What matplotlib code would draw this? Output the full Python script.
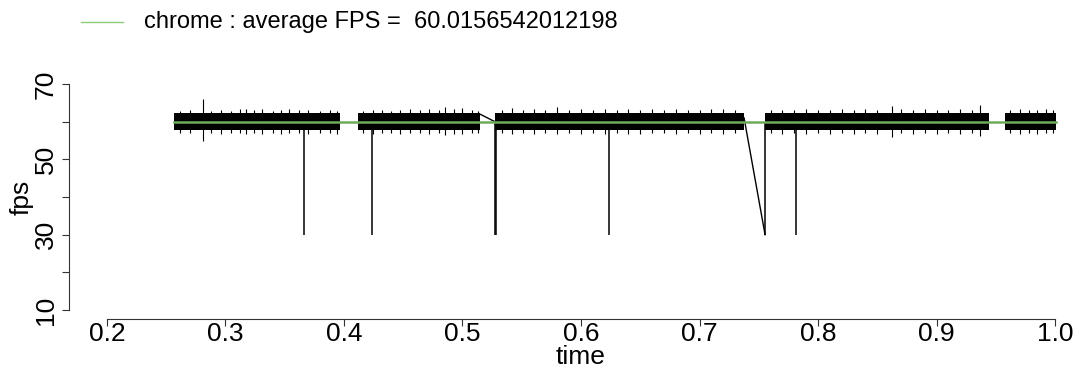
import matplotlib
matplotlib.use("Agg")
import matplotlib.pyplot as plt
from matplotlib.lines import Line2D

plt.rcParams['font.family'] = ['Liberation Sans', 'DejaVu Sans']

# recording segments (time) and the solid part of the fps band
seg_start = [0.2565, 0.4118, 0.5274, 0.7553, 0.9578]
seg_end = [0.3966, 0.5148, 0.7376, 0.9443, 1.0005]
band_low = [57.7, 57.7, 57.7, 57.7, 57.7]
band_high = [62.3, 62.3, 62.3, 62.3, 62.3]

# visible jitter outliers (time, high, low)
peak_t = [0.2620, 0.2700, 0.2810, 0.2880, 0.2960, 0.3050, 0.3120, 0.3170, 0.3240,
          0.3310, 0.3400, 0.3470, 0.3540, 0.3620, 0.3700, 0.3800, 0.3880, 0.3940,
          0.4160, 0.4245, 0.4320, 0.4400, 0.4473, 0.4557, 0.4640, 0.4720, 0.4800,
          0.4852, 0.4930, 0.4996, 0.5080, 0.5130,
          0.5330, 0.5420, 0.5510, 0.5600, 0.5700, 0.5800, 0.5900, 0.6000, 0.6100,
          0.6200, 0.6300, 0.6400, 0.6500, 0.6600, 0.6700, 0.6800, 0.6900, 0.7000,
          0.7100, 0.7200, 0.7300,
          0.7600, 0.7700, 0.7800, 0.7900, 0.8000, 0.8100, 0.8200, 0.8300, 0.8400,
          0.8500, 0.8620, 0.8700, 0.8800, 0.8900, 0.9000, 0.9100, 0.9200, 0.9300,
          0.9370,
          0.9620, 0.9700, 0.9780, 0.9850, 0.9920, 0.9980]
peak_hi = [62.9, 63.1, 66.0, 62.8, 63.2, 62.9, 63.4, 63.5, 63.0,
           63.3, 62.9, 63.2, 63.4, 63.0, 63.2, 62.9, 63.1, 62.8,
           62.9, 63.0, 63.1, 62.9, 63.2, 63.5, 63.2, 63.4, 63.0,
           63.8, 63.3, 63.6, 63.1, 62.9,
           63.2, 63.7, 63.1, 63.4, 63.0, 63.8, 63.2, 63.3, 63.0,
           63.5, 63.1, 63.3, 63.0, 63.4, 63.1, 63.4, 63.2, 63.0,
           63.3, 63.5, 63.1,
           63.0, 63.2, 63.1, 63.3, 63.0, 63.2, 63.4, 63.1, 63.3,
           63.2, 64.2, 63.3, 63.1, 63.4, 63.2, 63.0, 63.3, 63.1,
           64.5,
           63.0, 63.5, 63.1, 63.2, 63.5, 63.0]
peak_lo = [57.0, 56.9, 55.0, 57.1, 56.8, 57.0, 56.9, 56.6, 57.1,
           56.8, 57.0, 56.7, 56.9, 57.1, 56.6, 56.9, 57.0, 56.8,
           57.0, 56.8, 57.0, 56.9, 56.7, 56.9, 57.0, 56.6, 56.9,
           56.5, 56.8, 56.7, 56.9, 57.0,
           56.9, 56.7, 57.0, 56.8, 56.9, 56.6, 57.0, 56.8, 56.9,
           56.7, 57.0, 56.8, 56.6, 56.9, 57.0, 56.7, 56.9, 56.8,
           57.0, 56.7, 56.9,
           57.0, 56.8, 56.9, 56.7, 57.0, 56.8, 56.9, 56.7, 57.0,
           56.8, 56.0, 56.9, 56.7, 56.9, 56.6, 56.9, 56.8, 57.0,
           56.3,
           56.9, 56.8, 57.0, 56.7, 56.9, 57.0]

# frame drops down to 30 fps
drop_t = [0.3662, 0.4236, 0.5276, 0.5284, 0.6236, 0.7553, 0.7814]
drop_v = [30, 30, 30, 30, 30, 30, 30]

# lines joining the end of one segment to the next sample
bridge_t0 = [0.5148, 0.7376]
bridge_v0 = [62.0, 61.0]
bridge_t1 = [0.5274, 0.7553]
bridge_v1 = [60.0, 30.0]

avg_fps = 60.0156542012198
x_ticks = [0.2, 0.3, 0.4, 0.5, 0.6, 0.7, 0.8, 0.9, 1.0]
x_labels = ["0.2", "0.3", "0.4", "0.5", "0.6", "0.7", "0.8", "0.9", "1.0"]
y_ticks = [10, 20, 30, 40, 50, 60, 70]
y_labels = ["10", "", "30", "", "50", "", "70"]

W, H = 1084, 373
fig = plt.figure(figsize=(W / 100, H / 100), dpi=100)
ax = fig.add_axes([69 / W, 54 / H, (1093 - 69) / W, 244 / H])

for s, e, lo, hi in zip(seg_start, seg_end, band_low, band_high):
    ax.fill_between([s, e], [lo, lo], [hi, hi], color="black", lw=0)
ax.vlines(peak_t, peak_lo, peak_hi, color="black", lw=0.8)
ax.vlines(drop_t, drop_v, 60, color="black", lw=1.1)
for t0, v0, t1, v1 in zip(bridge_t0, bridge_v0, bridge_t1, bridge_v1):
    ax.plot([t0, t1], [v0, v1], color="black", lw=1.0)

ax.plot([seg_start[0], seg_end[-1]], [avg_fps, avg_fps], color="#6cab5c", lw=1.8, zorder=5)

ax.set_xlim(0.168, 1.032)
ax.set_ylim(7.6, 72.4)
for side in ["top", "right"]:
    ax.spines[side].set_visible(False)
ax.spines["left"].set_bounds(10, 70)
ax.spines["bottom"].set_bounds(0.2, 1.0)
for side in ["left", "bottom"]:
    ax.spines[side].set_linewidth(0.8)
    ax.spines[side].set_color("#333333")

ax.set_xticks(x_ticks)
ax.set_xticklabels(x_labels)
ax.set_yticks(y_ticks)
ax.set_yticklabels(y_labels, rotation=90, va="center")
ax.tick_params(axis="both", direction="out", length=5, width=0.8, color="#333333", labelsize=19)
ax.tick_params(axis="x", pad=-2.5)
ax.tick_params(axis="y", pad=3)

ax.set_xlabel("time", fontsize=19, labelpad=-1)
ax.set_ylabel("fps", fontsize=19, labelpad=0)

# legend line + text at the top
fig.add_artist(Line2D([81 / W, 123 / W], [1 - 22 / H, 1 - 22 / H], color="#8ccc7c", lw=1.0,
                      transform=fig.transFigure))
fig.text(144 / W, 1 - 22 / H, "chrome : average FPS =  %s" % repr(avg_fps), fontsize=17,
         va="center", ha="left")

fig.savefig("out.png", dpi=100)
